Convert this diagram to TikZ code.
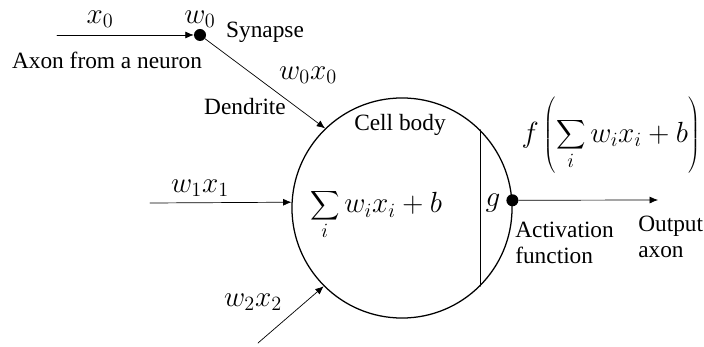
\documentclass[tikz,border=0pt]{standalone}
\usepackage{fontspec}
\setmainfont{Liberation Serif}
\newfontfamily\neuronfont{Liberation Serif}
\usepackage{xcolor}
\usetikzlibrary{arrows.meta}
\definecolor{neuronInk}{HTML}{000000}
\newcommand{\bigsum}{\mathop{\vcenter{\hbox{\scalebox{1.45}{$\displaystyle\sum$}}}}\limits}

\begin{document}
\begin{tikzpicture}[x=0.025cm, y=-0.025cm, line cap=round, line join=round,
    every node/.style={font=\neuronfont\fontsize{16.6}{18}\selectfont, inner sep=0pt},
    mathlbl/.style={font=\fontsize{19.5}{21}\selectfont},
    wire/.style={neuronInk, line width=0.5pt, -{Latex[length=6pt, width=5pt]}},
    knot/.style={circle, fill=neuronInk, minimum size=0.3cm}]
  \useasboundingbox (0,0) rectangle (704,347);
  % Cell body
  \node[circle, draw=neuronInk, line width=0.9pt, minimum size=5.5cm] (body) at (402,208) {};
  \draw[neuronInk, line width=0.6pt] (body.45) -- (body.-45);
  % Synapse and output knots
  \node[knot] (syn) at (200,35) {};
  \node[knot] (out) at (body.4) {};
  % Free ends
  \coordinate (axonIn) at (57,35);
  \coordinate (inOne) at (150,203);
  \coordinate (inTwo) at (258,343);
  \coordinate (axonOut) at (658,200);
  % Connectors
  \draw[wire] (axonIn) -- (syn.west);
  \draw[wire] (syn) -- (body.134);
  \draw[wire] (inOne) -- (body.177);
  \draw[wire] (inTwo) -- (body.225);
  \draw[wire] (out) -- (axonOut);
  % Labels
  \node[mathlbl] (xzero) at (100,19) {$x_0$};
  \node[mathlbl] (wzero) at (200,19) {$w_0$};
  \node (synapse) at (265,32) {Synapse};
  \node (axon) at (107,60) {Axon from a neuron};
  \node[mathlbl] (wzxz) at (308,75) {$w_0x_0$};
  \node (dendrite) at (245,107) {Dendrite};
  \node (cell) at (400,125) {Cell body};
  \node[mathlbl] (sum) at (376,214) {$\bigsum_i w_ix_i+b$};
  \node[mathlbl] (gee) at (493,203) {$g$};
  \node[mathlbl] (fsum) at (611,136) {$f\left(\vrule height 25pt depth 23pt width 0pt\bigsum_i w_ix_i+b\right)$};
  \node[mathlbl] (woxo) at (200,188) {$w_1x_1$};
  \node[mathlbl] (wtxt) at (253,302) {$w_2x_2$};
  \node[anchor=west, align=left] (act) at (515,243) {Activation\\function};
  \node[anchor=west, align=left] (outax) at (638,237) {Output\\axon};
\end{tikzpicture}
\end{document}
